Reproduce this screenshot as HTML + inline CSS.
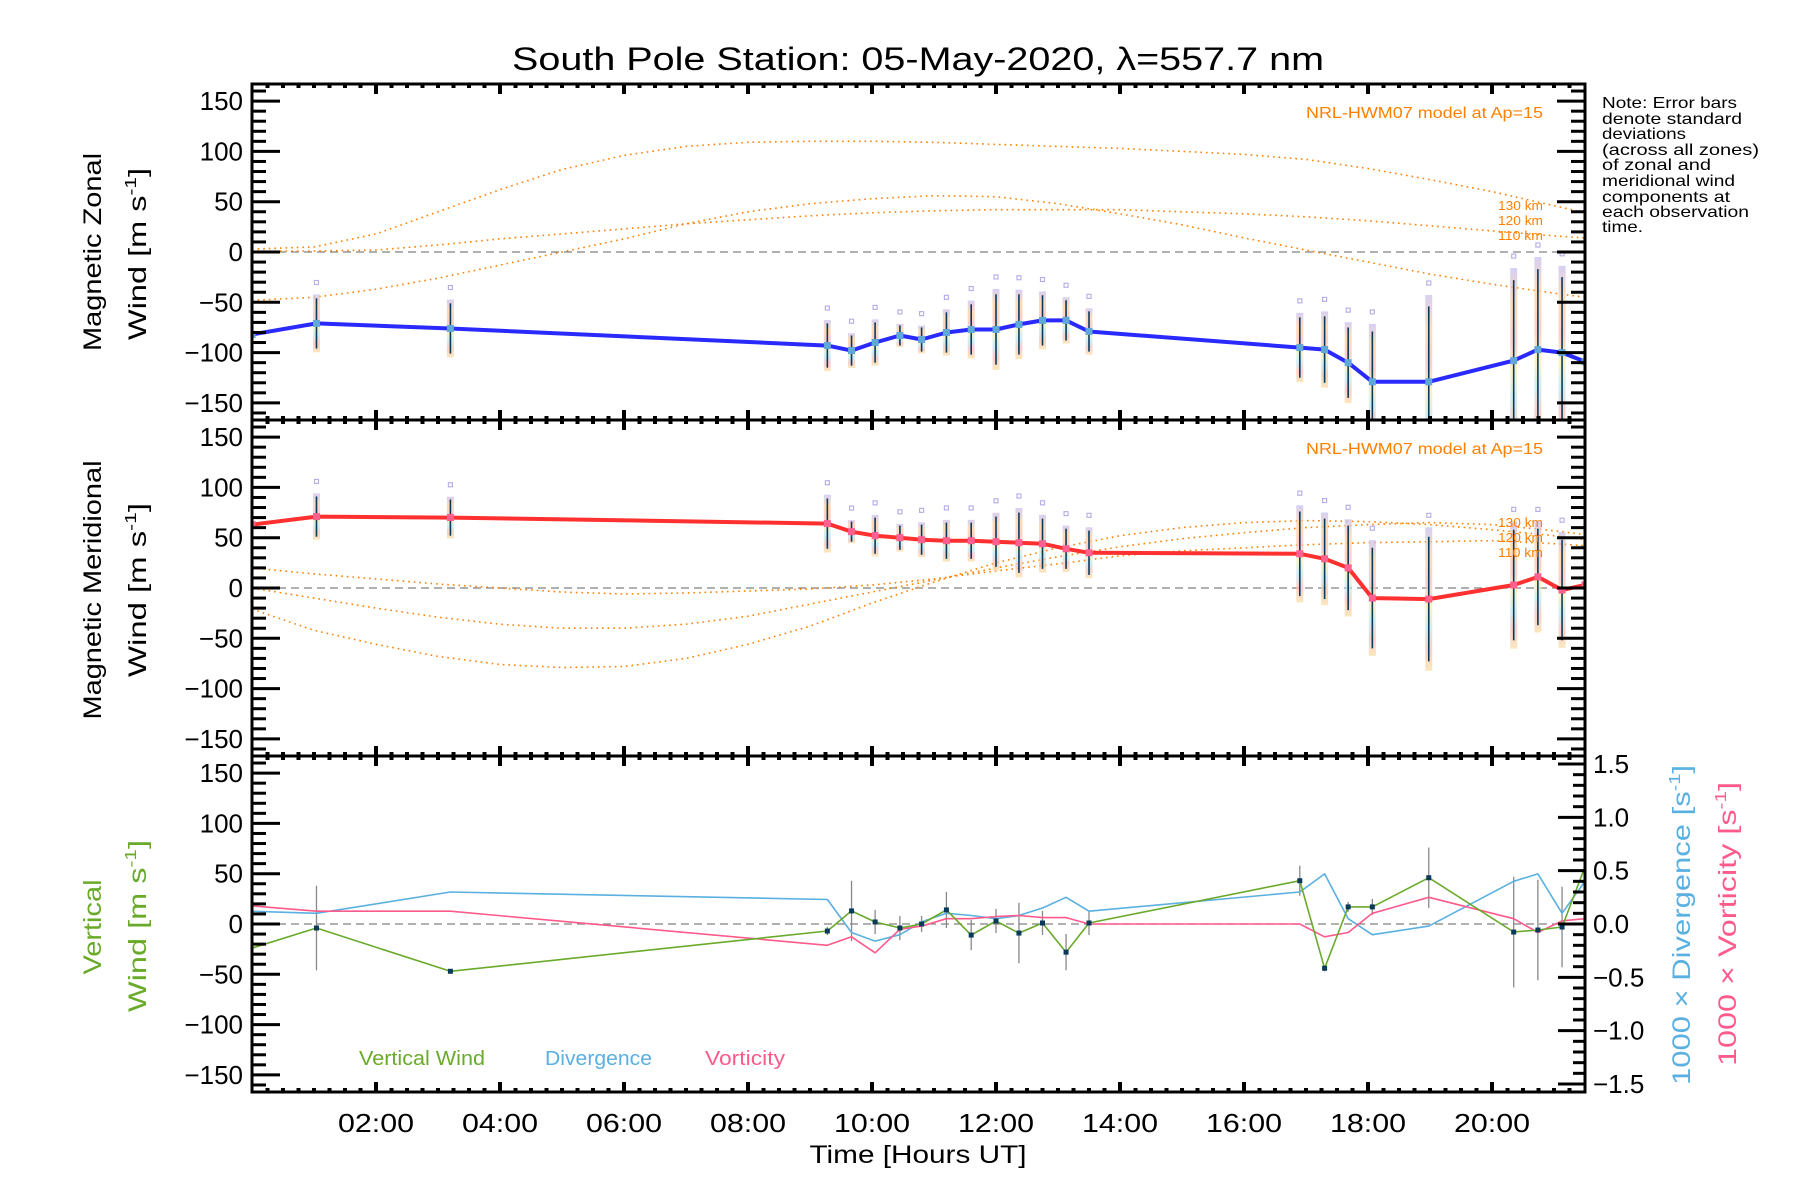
<!DOCTYPE html>
<html><head><meta charset="utf-8">
<style>
html,body{margin:0;padding:0;background:#fff;}
svg{display:block;font-family:"Liberation Sans",sans-serif;}
</style></head>
<body>
<svg id="chart" width="1800" height="1200" viewBox="0 0 1800 1200" xmlns="http://www.w3.org/2000/svg">
<rect width="1800" height="1200" fill="#fff"/>
<text x="918" y="70" font-size="32" text-anchor="middle" textLength="812" lengthAdjust="spacingAndGlyphs">South Pole Station: 05-May-2020, λ=557.7 nm</text>
<g id="g"></g>
<g>
<text transform="translate(101,252) rotate(-90)" font-size="25" text-anchor="middle" textLength="198" lengthAdjust="spacingAndGlyphs">Magnetic Zonal</text>
<text transform="translate(146,254) rotate(-90)" font-size="25" text-anchor="middle" textLength="172" lengthAdjust="spacingAndGlyphs">Wind [m s<tspan font-size="16" dy="-10">-1</tspan><tspan dy="10">]</tspan></text>
<text transform="translate(101,590) rotate(-90)" font-size="25" text-anchor="middle" textLength="259" lengthAdjust="spacingAndGlyphs">Magnetic Meridional</text>
<text transform="translate(146,590) rotate(-90)" font-size="25" text-anchor="middle" textLength="174" lengthAdjust="spacingAndGlyphs">Wind [m s<tspan font-size="16" dy="-10">-1</tspan><tspan dy="10">]</tspan></text>
<text transform="translate(101,927) rotate(-90)" font-size="25" fill="#6aaa2a" text-anchor="middle" textLength="95" lengthAdjust="spacingAndGlyphs">Vertical</text>
<text transform="translate(146,926) rotate(-90)" font-size="25" fill="#6aaa2a" text-anchor="middle" textLength="172" lengthAdjust="spacingAndGlyphs">Wind [m s<tspan font-size="16" dy="-10">-1</tspan><tspan dy="10">]</tspan></text>
<text transform="translate(1690,925) rotate(-90)" font-size="25" fill="#5ab0e0" text-anchor="middle" textLength="320" lengthAdjust="spacingAndGlyphs">1000 × Divergence [s<tspan font-size="16" dy="-10">-1</tspan><tspan dy="10">]</tspan></text>
<text transform="translate(1736,924) rotate(-90)" font-size="25" fill="#ff5a8c" text-anchor="middle" textLength="284" lengthAdjust="spacingAndGlyphs">1000 × Vorticity [s<tspan font-size="16" dy="-10">-1</tspan><tspan dy="10">]</tspan></text>
<text x="918" y="1163" font-size="25" text-anchor="middle" textLength="217" lengthAdjust="spacingAndGlyphs">Time [Hours UT]</text>
</g>
<g font-size="16">
<text x="1602" y="108" textLength="135" lengthAdjust="spacingAndGlyphs">Note: Error bars</text>
<text x="1602" y="124" textLength="140" lengthAdjust="spacingAndGlyphs">denote standard</text>
<text x="1602" y="139" textLength="84" lengthAdjust="spacingAndGlyphs">deviations</text>
<text x="1602" y="155" textLength="157" lengthAdjust="spacingAndGlyphs">(across all zones)</text>
<text x="1602" y="170" textLength="109" lengthAdjust="spacingAndGlyphs">of zonal and</text>
<text x="1602" y="186" textLength="133" lengthAdjust="spacingAndGlyphs">meridional wind</text>
<text x="1602" y="202" textLength="128" lengthAdjust="spacingAndGlyphs">components at</text>
<text x="1602" y="217" textLength="147" lengthAdjust="spacingAndGlyphs">each observation</text>
<text x="1602" y="232" textLength="41" lengthAdjust="spacingAndGlyphs">time.</text>
</g>
<g font-size="20">
<text x="359" y="1065" fill="#6aaa2a" textLength="126" lengthAdjust="spacingAndGlyphs">Vertical Wind</text>
<text x="545" y="1065" fill="#5ab0e0" textLength="107" lengthAdjust="spacingAndGlyphs">Divergence</text>
<text x="705" y="1065" fill="#ff5a8c" textLength="80" lengthAdjust="spacingAndGlyphs">Vorticity</text>
</g>
<g fill="#ff8000">
<text x="1306" y="118" font-size="16" textLength="237" lengthAdjust="spacingAndGlyphs">NRL-HWM07 model at Ap=15</text>
<text x="1306" y="454" font-size="16" textLength="237" lengthAdjust="spacingAndGlyphs">NRL-HWM07 model at Ap=15</text>
<text x="1498" y="210" font-size="13" textLength="45" lengthAdjust="spacingAndGlyphs">130 km</text>
<text x="1498" y="225" font-size="13" textLength="45" lengthAdjust="spacingAndGlyphs">120 km</text>
<text x="1498" y="240" font-size="13" textLength="45" lengthAdjust="spacingAndGlyphs">110 km</text>
<text x="1498" y="527" font-size="13" textLength="45" lengthAdjust="spacingAndGlyphs">130 km</text>
<text x="1498" y="542" font-size="13" textLength="45" lengthAdjust="spacingAndGlyphs">120 km</text>
<text x="1498" y="557" font-size="13" textLength="45" lengthAdjust="spacingAndGlyphs">110 km</text>
</g>
</svg>
<script>
// ---- data ----
const times = [0, 1.04, 3.2, 9.28, 9.67, 10.05, 10.45, 10.8, 11.2, 11.6, 12.0, 12.37, 12.75, 13.13, 13.5, 16.9, 17.3, 17.68, 18.07, 18.98, 20.35, 20.74, 21.13, 21.5];
const zonal = [-82, -71, -76, -93, -98, -90, -83, -87, -80, -77, -77, -72, -68, -68, -79, -95, -97, -110, -129, -129, -108, -97, -100, -109];
const zonalErr = [0, 25, 25, 22, 15, 20, 10, 12, 20, 25, 35, 30, 25, 20, 20, 30, 33, 35, 50, 75, 80, 80, 75, 0];
const merid = [63, 71, 70, 64, 56, 52, 50, 48, 47, 47, 46, 45, 44, 39, 35, 34, 29, 20, -10, -11, 3, 11, -2, 3];
const meridErr = [0, 20, 18, 25, 10, 18, 12, 15, 18, 18, 25, 30, 25, 20, 22, 42, 40, 42, 50, 62, 55, 48, 50, 0];
const vert = [-24, -4, -47, -7, 13, 2, -4, 0, 14, -11, 3, -9, 1, -28, 1, 43, -44, 17, 17, 46, -8, -6, -3, 57];
const vertErr = [0, 42, 2, 4, 30, 12, 12, 8, 18, 15, 12, 30, 12, 18, 12, 15, 3, 5, 8, 30, 55, 50, 40, 0];
const diverg = [0.12, 0.1, 0.3, 0.23, -0.08, -0.16, -0.1, 0.02, 0.1, 0.08, 0.05, 0.08, 0.15, 0.25, 0.12, 0.3, 0.47, 0.05, -0.1, -0.02, 0.4, 0.47, 0.1, 0.4];
const vortic = [0.17, 0.12, 0.12, -0.2, -0.12, -0.27, -0.05, -0.02, 0.05, 0.05, 0.07, 0.08, 0.06, 0.06, 0.0, 0.0, -0.12, -0.08, 0.1, 0.25, 0.05, -0.08, 0.03, 0.05];
const modelHours = [0,1,2,3,4,5,6,7,8,9,10,11,12,13,14,15,16,17,18,19,20,21,21.5];
const zon130 = [3,5,18,40,62,82,96,105,109,110,110,109,107,105,103,100,97,92,83,72,60,46,39];
const zon120 = [1,1,2,7,13,18,23,28,32,36,39,41,42,42,42,40,38,35,31,26,21,16,14];
const zon110 = [-48,-45,-37,-26,-13,0,13,28,40,48,53,56,55,48,38,27,14,2,-10,-22,-32,-41,-45];
const mer110 = [20,14,9,4,0,-4,-6,-5,-3,-1,3,9,17,24,32,37,40,43,45,46,47,44,42];
const mer120 = [0,-10,-20,-29,-36,-40,-40,-36,-28,-16,-4,8,20,31,41,49,55,60,63,65,63,57,53];
const mer130 = [-21,-42,-56,-68,-76,-79,-78,-70,-56,-38,-15,6,25,40,52,60,65,67,66,63,58,52,48];
const yTicks = [-150,-100,-50,0,50,100,150];
const rTicks = [-1.5,-1.0,-0.5,0.0,0.5,1.0,1.5];
const xTicks = [2,4,6,8,10,12,14,16,18,20];
const xTickLabels = ["02:00","04:00","06:00","08:00","10:00","12:00","14:00","16:00","18:00","20:00"];

// ---- geometry ----
const X0=252, X1=1585, H0=0, H1=21.5;
const tops=[84,420,756], PH=336, YR=167, RR=1.575;
const NS="http://www.w3.org/2000/svg";
const g=document.getElementById('g');
function xs(h){return X0+(h-H0)/(H1-H0)*(X1-X0);}
function ys(p,v){return tops[p]+PH/2 - v/YR*(PH/2);}
function yr(v){return tops[2]+PH/2 - v/RR*(PH/2);}
function mk(tag,attrs,parent){const e=document.createElementNS(NS,tag);for(const k in attrs)e.setAttribute(k,attrs[k]);(parent||g).appendChild(e);return e;}

const defs=mk('defs',{});
const grad=mk('linearGradient',{id:'pastel',x1:0,y1:0,x2:0,y2:1},defs);
[['0','#c8c0f0'],['0.2','#ffd0a0'],['0.4','#f8c0b8'],['0.55','#f8f0b0'],['0.7','#c0e8f0'],['0.85','#f8c0b8'],['1','#f8e0a8']].forEach(s=>mk('stop',{offset:s[0],'stop-color':s[1]},grad));
for(let p=0;p<3;p++){const c=mk('clipPath',{id:'clip'+p},defs);mk('rect',{x:X0,y:tops[p],width:X1-X0,height:PH},c);}

function line(vals,p,color,w,name,scaleR){
  const pts=times.map((t,i)=>xs(t).toFixed(1)+','+(scaleR?yr(vals[i]):ys(p,vals[i])).toFixed(1)).join(' ');
  const e=mk('polyline',{points:pts,fill:'none',stroke:color,'stroke-width':w,'clip-path':'url(#clip'+p+')','stroke-linejoin':'round'});
  
  
  return e;
}
function model(hours,vals,p,name){
  const pts=hours.map((h,i)=>xs(h).toFixed(1)+','+ys(p,vals[i]).toFixed(1)).join(' ');
  const e=mk('polyline',{points:pts,fill:'none',stroke:'#ff8000','stroke-width':1.6,'stroke-dasharray':'1.6 4','clip-path':'url(#clip'+p+')'});
  
  
}

for(let p=0;p<3;p++){
  const z=mk('line',{x1:X0,x2:X1,y1:ys(p,0),y2:ys(p,0),stroke:'#808080','stroke-width':1.3,'stroke-dasharray':'8 5'});
  
  
}

model(modelHours,zon130,0,'zonal-model-130km');
model(modelHours,zon120,0,'zonal-model-120km');
model(modelHours,zon110,0,'zonal-model-110km');
model(modelHours,mer110,1,'meridional-model-110km');
model(modelHours,mer120,1,'meridional-model-120km');
model(modelHours,mer130,1,'meridional-model-130km');

function errs(vals,errv,p,nm){
  const grp=mk('g',{'clip-path':'url(#clip'+p+')'});
  
  
  times.forEach((t,i)=>{
    if(!errv[i])return;
    const x=xs(t), yt=ys(p,vals[i]+errv[i]*1.15), yb=ys(p,vals[i]-errv[i]*1.15);
    mk('rect',{x:x-3.5,y:yt,width:7,height:yb-yt,fill:'url(#pastel)',opacity:0.75},grp);
    mk('rect',{x:x-2,y:yt-14,width:4,height:4,fill:'none',stroke:'#b8b0e8','stroke-width':1.2},grp);
    mk('line',{x1:x,x2:x,y1:ys(p,vals[i]+errv[i]),y2:ys(p,vals[i]-errv[i]),stroke:'#0a3a5a','stroke-width':1.6},grp);
  });
}
errs(zonal,zonalErr,0,'zonal-error-bars');
errs(merid,meridErr,1,'meridional-error-bars');
line(zonal,0,'#2a2aff',4,'zonal-wind-line');
line(merid,1,'#ff3030',4,'meridional-wind-line');
function markers(vals,p,color,nm){
  const grp=mk('g',{'clip-path':'url(#clip'+p+')'});
  
  
  times.forEach((t,i)=>{mk('rect',{x:xs(t)-3.5,y:ys(p,vals[i])-3.5,width:7,height:7,fill:color},grp);});
}
markers(zonal,0,'#5fa8d8','zonal-markers');
markers(merid,1,'#ff6090','meridional-markers');

const ve=mk('g',{'clip-path':'url(#clip2)'});


times.forEach((t,i)=>{ if(!vertErr[i])return; mk('line',{x1:xs(t),x2:xs(t),y1:ys(2,vert[i]+vertErr[i]),y2:ys(2,vert[i]-vertErr[i]),stroke:'#888','stroke-width':1.3},ve);});
line(diverg,2,'#5ab0e0',1.6,'divergence-line',true);
line(vortic,2,'#ff5a8c',1.6,'vorticity-line',true);
line(vert,2,'#6aaa2a',1.6,'vertical-wind-line');
const vm=mk('g',{'clip-path':'url(#clip2)'});


times.forEach((t,i)=>{ if(i==0||i==times.length-1)return; mk('rect',{x:xs(t)-2.5,y:ys(2,vert[i])-2.5,width:5,height:5,fill:'#0a3a5a'},vm);});

const ax=mk('g',{stroke:'#000',fill:'none'});


for(let p=0;p<3;p++){
  const T=tops[p],B=T+PH;
  mk('rect',{x:X0,y:T,width:X1-X0,height:PH,'stroke-width':3},ax);
  for(let v=-160;v<=160;v+=10){
    const y=ys(p,v), major=(v%50===0);
    const L=major?28:14;
    mk('line',{x1:X0,x2:X0+L,y1:y,y2:y,'stroke-width':3},ax);
    if(p<2) mk('line',{x1:X1,x2:X1-L,y1:y,y2:y,'stroke-width':3},ax);
  }
  for(let h=0.25;h<H1;h+=0.25){
    const x=xs(h), major=Math.abs(h/2-Math.round(h/2))<1e-6;
    const L=major?10:4;
    mk('line',{x1:x,x2:x,y1:T,y2:T+L,'stroke-width':4},ax);
    mk('line',{x1:x,x2:x,y1:B,y2:B-L,'stroke-width':4},ax);
  }
}
for(let k=-15;k<=15;k++){
  const v=k/10, y=yr(v), major=(k%5===0);
  mk('line',{x1:X1,x2:X1-(major?27:12),y1:y,y2:y,'stroke-width':3},ax);
}
const lab=mk('g',{'font-size':26,fill:'#000'});


for(let p=0;p<3;p++){
  yTicks.forEach(v=>{
    const t=mk('text',{x:X0-9,y:ys(p,v)+9,'text-anchor':'end'},lab);
    t.textContent=(v<0?'\u2212':'')+Math.abs(v);
    
    
  });
}
rTicks.forEach(v=>{
  const t=mk('text',{x:X1+8,y:yr(v)+9,'text-anchor':'start'},lab);
  t.textContent=(v<0?'\u2212':'')+Math.abs(v).toFixed(1);
  
  
});
xTicks.forEach((h,i)=>{
  const t=mk('text',{x:xs(h),y:1132,'text-anchor':'middle',textLength:76,lengthAdjust:'spacingAndGlyphs'},lab);
  t.textContent=xTickLabels[i];
  
  
});
</script>
</body></html>
